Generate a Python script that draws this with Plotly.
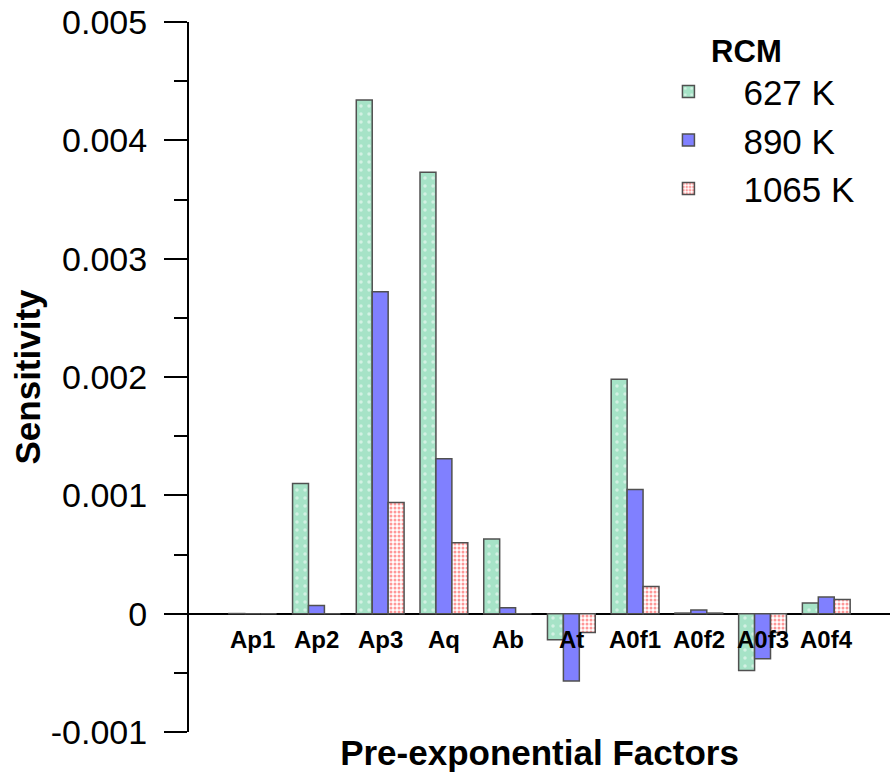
import plotly.graph_objects as go

categories = ["Ap1", "Ap2", "Ap3", "Aq", "Ab", "At", "A0f1", "A0f2", "A0f3", "A0f4"]
s627 = [0.000001, 0.00110, 0.00434, 0.00373, 0.00063, -0.00022, 0.00198, 0.000005, -0.00048, 0.00009]
s890 = [0.0, 0.00007, 0.00272, 0.00131, 0.00005, -0.00057, 0.00105, 0.00003, -0.00038, 0.00014]
s1065 = [0.0, 0.0, 0.00094, 0.00060, 0.0, -0.00016, 0.00023, 0.000005, -0.00016, 0.00012]
series_names = ["627 K", "890 K", "1065 K"]
yticks = [-0.001, 0, 0.001, 0.002, 0.003, 0.004, 0.005]
ytick_text = ["-0.001", "0", "0.001", "0.002", "0.003", "0.004", "0.005"]

FONT = "Liberation Sans, Arial, sans-serif"
line = dict(color="#505050", width=1.5)

fig = go.Figure()
fig.add_trace(go.Bar(
    x=categories, y=s627, name=series_names[0],
    marker=dict(color="#a6e3c7", line=line,
                pattern=dict(shape=".", bgcolor="#a6e3c7", fgcolor="#ffffff", size=8, solidity=0.15)),
))
fig.add_trace(go.Bar(
    x=categories, y=s890, name=series_names[1],
    marker=dict(color="#8080ff", line=line),
))
fig.add_trace(go.Bar(
    x=categories, y=s1065, name=series_names[2],
    marker=dict(color="#ff6060", line=line,
                pattern=dict(shape=".", bgcolor="#ffffff", fgcolor="#ff3030", size=4, solidity=0.45)),
))

for c in categories:
    fig.add_annotation(x=c, y=0, xref="x", yref="y", text="<b>%s</b>" % c,
                       showarrow=False, yanchor="top", yshift=-10,
                       font=dict(family=FONT, size=24, color="black"))

fig.update_layout(
    width=892, height=774,
    paper_bgcolor="white", plot_bgcolor="white",
    margin=dict(l=189, r=2, t=22, b=42, autoexpand=False),
    barmode="group", bargap=0.25, bargroupgap=0,
    font=dict(family=FONT, color="black"),
    legend=dict(
        x=0.634, y=1.0, xanchor="left", yanchor="top",
        title=dict(text="<b>RCM</b>", side="top center", font=dict(family=FONT, size=31)),
        font=dict(family=FONT, size=35),
        bgcolor="rgba(0,0,0,0)", itemwidth=100, tracegroupgap=0,
    ),
    xaxis=dict(
        type="category", range=[-1, 10], showticklabels=False, ticks="",
        showline=False, showgrid=False, zeroline=False, automargin=False,
        title=dict(text="<b>Pre-exponential Factors</b>", standoff=8,
                   font=dict(family=FONT, size=35)),
    ),
    yaxis=dict(
        range=[-0.001, 0.005], tickvals=yticks, ticktext=ytick_text,
        ticks="outside", ticklen=23, tickwidth=2, tickcolor="black",
        showline=True, linecolor="black", linewidth=2, automargin=False,
        showgrid=False, zeroline=True, zerolinecolor="black", zerolinewidth=2,
        tickfont=dict(family=FONT, size=34), ticklabelstandoff=10, ticklabeloverflow="allow",
        minor=dict(dtick=0.0005, ticks="outside", ticklen=13, tickwidth=2, tickcolor="black", showgrid=False),
        title=dict(text="<b>Sensitivity</b>", font=dict(family=FONT, size=35), standoff=0),
    ),
)

fig.write_html("out.html", config={"displayModeBar": False},
               post_script="document.body.style.margin='0px';")
